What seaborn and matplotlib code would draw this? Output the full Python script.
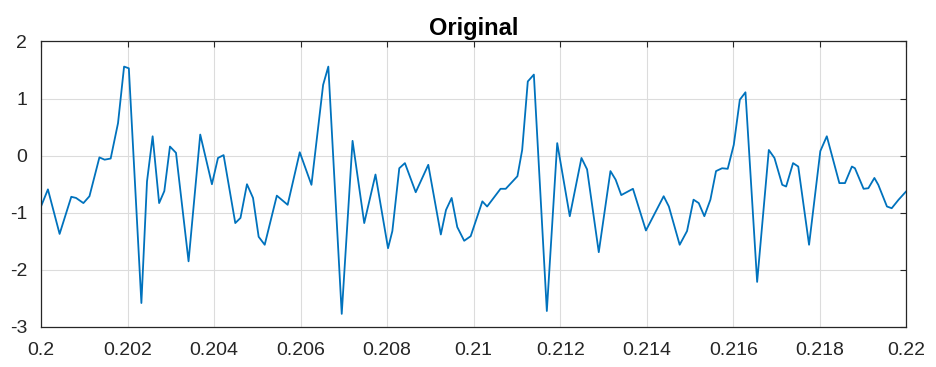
import matplotlib
matplotlib.use("Agg")
import matplotlib.pyplot as plt
import seaborn as sns
import pandas as pd

# vertices (time in s, amplitude)
t = [0.20000, 0.20016, 0.20043, 0.20070, 0.20081, 0.20098, 0.20112, 0.20135,
     0.20147, 0.20161, 0.20178, 0.20192, 0.20203, 0.20232, 0.20245, 0.20258,
     0.20273, 0.20285, 0.20298, 0.20312, 0.20341, 0.20368, 0.20395, 0.20409,
     0.20422, 0.20449, 0.20461, 0.20476, 0.20490, 0.20503, 0.20517, 0.20545,
     0.20570, 0.20598, 0.20625, 0.20652, 0.20664, 0.20695, 0.20720, 0.20747,
     0.20773, 0.20802, 0.20812, 0.20828, 0.20841, 0.20866, 0.20895, 0.20924,
     0.20936, 0.20949, 0.20962, 0.20978, 0.20993, 0.21020, 0.21031, 0.21062,
     0.21074, 0.21101, 0.21112, 0.21125, 0.21139, 0.21169, 0.21193, 0.21222,
     0.21249, 0.21262, 0.21289, 0.21316, 0.21328, 0.21341, 0.21368, 0.21398,
     0.21439, 0.21451, 0.21476, 0.21493, 0.21508, 0.21520, 0.21533, 0.21547,
     0.21560, 0.21574, 0.21587, 0.21601, 0.21615, 0.21628, 0.21655, 0.21682,
     0.21695, 0.21713, 0.21722, 0.21738, 0.21750, 0.21775, 0.21801, 0.21816,
     0.21845, 0.21858, 0.21874, 0.21881, 0.21901, 0.21912, 0.21926, 0.21935,
     0.21955, 0.21966, 0.21982, 0.22000]
amp = [-0.89, -0.59, -1.37, -0.72, -0.74, -0.83, -0.71, -0.03,
       -0.07, -0.05, 0.57, 1.56, 1.53, -2.58, -0.45, 0.34,
       -0.83, -0.62, 0.16, 0.05, -1.85, 0.37, -0.50, -0.04,
       0.01, -1.18, -1.09, -0.50, -0.74, -1.42, -1.56, -0.70,
       -0.86, 0.06, -0.51, 1.24, 1.56, -2.77, 0.26, -1.18,
       -0.33, -1.62, -1.32, -0.22, -0.13, -0.64, -0.16, -1.38,
       -0.95, -0.74, -1.25, -1.49, -1.41, -0.80, -0.89, -0.58,
       -0.58, -0.36, 0.10, 1.30, 1.42, -2.72, 0.22, -1.06,
       -0.04, -0.24, -1.69, -0.27, -0.42, -0.69, -0.58, -1.31,
       -0.71, -0.89, -1.56, -1.32, -0.77, -0.83, -1.06, -0.77,
       -0.27, -0.22, -0.23, 0.19, 0.98, 1.11, -2.21, 0.10,
       -0.04, -0.51, -0.54, -0.13, -0.19, -1.56, 0.08, 0.34,
       -0.48, -0.48, -0.19, -0.22, -0.58, -0.57, -0.39, -0.51,
       -0.89, -0.92, -0.77, -0.62]

xticks = [0.2, 0.202, 0.204, 0.206, 0.208, 0.21, 0.212, 0.214, 0.216, 0.218, 0.22]
xticklabels = ["0.2", "0.202", "0.204", "0.206", "0.208", "0.21",
               "0.212", "0.214", "0.216", "0.218", "0.22"]
yticks = [-3, -2, -1, 0, 1, 2]

df = pd.DataFrame({"t": t, "amp": amp})

sns.set_style("white")
plt.rcParams["font.family"] = ["Liberation Sans Narrow", "Liberation Sans", "DejaVu Sans"]
plt.rcParams["axes.unicode_minus"] = False

fig = plt.figure(figsize=(9.36, 3.67), dpi=100)
ax = fig.add_axes([0.0438, 0.109, 0.9246, 0.778])

sns.lineplot(data=df, x="t", y="amp", ax=ax, color="#0072BD", linewidth=1.3)

ax.set_xlim(0.2, 0.22)
ax.set_ylim(-3, 2)
ax.set_xticks(xticks)
ax.set_xticklabels(xticklabels)
ax.set_yticks(yticks)
ax.set_xlabel("")
ax.set_ylabel("")
ax.set_title("Original", fontsize=17, fontweight="bold", color="#000000", pad=5)

ax.grid(True, color="#dcdcdc", linewidth=0.8)
ax.set_axisbelow(True)
for s in ax.spines.values():
    s.set_color("#262626")
    s.set_linewidth(0.9)
ax.tick_params(direction="in", length=4.5, width=0.8, color="#262626",
               top=True, right=True, labelsize=14, labelcolor="#262626")
ax.tick_params(axis="x", pad=11)
ax.tick_params(axis="y", pad=10)

fig.savefig("out.png", dpi=100)
